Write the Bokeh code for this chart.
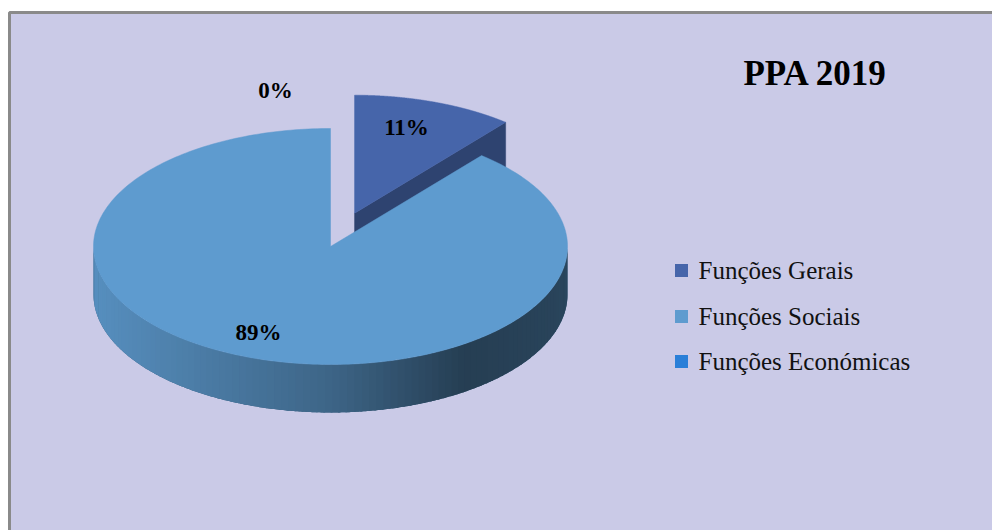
import numpy as np
from bokeh.plotting import figure
from bokeh.models import Range1d
from bokeh.core.properties import value
from bokeh.embed import file_html
from bokeh.resources import INLINE

# ---- data ----
categories = ["Funções Gerais", "Funções Sociais", "Funções Económicas"]
values = [11, 89, 0]
pct_labels = ["11%", "89%", "0%"]
title_text = "PPA 2019"

# ---- style / layout ----
slice_colors = ["#4665AA", "#5E9BCF", "#2A7FD8"]
explode = [0.30, 0.0, 0.0]
CX, CY, RX, RY, DEPTH = 330.0, 246.0, 237.0, 118.0, 48.0
label_xy = [(406, 127), (258, 332), (275, 90)]   # label centres (px)
FONT = "Liberation Serif"
BG = "#CACAE7"

def hex2rgb(h):
    h = h.lstrip("#")
    return np.array([int(h[i:i + 2], 16) for i in (0, 2, 4)], dtype=float)

def rgb2hex(c):
    c = np.clip(np.round(c), 0, 255).astype(int)
    return "#%02x%02x%02x" % tuple(c)

def wall_factor(x):
    u = (x - (CX - RX)) / (2 * RX)
    return np.interp(u, [0.0, 0.5, 0.78, 1.0], [0.92, 0.65, 0.40, 0.44])

p = figure(width=992, height=530, output_backend="svg", toolbar_location=None,
           x_range=Range1d(0, 992), y_range=Range1d(530, 0), min_border=0)
p.axis.visible = False
p.grid.visible = False
p.outline_line_color = None
p.background_fill_color = "white"
p.border_fill_color = "white"

# chart area with border
p.quad(left=[9], right=[1010], top=[12], bottom=[560], fill_color=BG,
       line_color="#8a8a8a", line_width=3)

total = float(sum(values))
starts, ends = [], []
a = 90.0
for v in values:
    starts.append(a)
    a = a - v / total * 360.0
    ends.append(a)

order = sorted(range(len(values)),
               key=lambda i: -np.sin(np.radians((starts[i] + ends[i]) / 2)))

for i in order:
    if values[i] <= 0:
        continue
    s, e = np.radians(starts[i]), np.radians(ends[i])
    m = (s + e) / 2
    cx = CX + explode[i] * RX * np.cos(m)
    cy = CY - explode[i] * RY * np.sin(m)
    base = hex2rgb(slice_colors[i])

    # radial faces
    face_xs, face_ys, face_cols = [], [], []
    if np.cos(e) > 1e-6:
        ex, ey = cx + RX * np.cos(e), cy - RY * np.sin(e)
        face_xs.append([cx, ex, ex, cx])
        face_ys.append([cy, ey, ey + DEPTH, cy + DEPTH])
        face_cols.append(rgb2hex(base * 0.66))
    if np.cos(s) < -1e-6:
        sx, sy = cx + RX * np.cos(s), cy - RY * np.sin(s)
        face_xs.append([cx, sx, sx, cx])
        face_ys.append([cy, sy, sy + DEPTH, cy + DEPTH])
        face_cols.append(rgb2hex(base * 0.66))
    if face_xs:
        p.patches(face_xs, face_ys, fill_color=face_cols, line_color=face_cols,
                  line_width=0.5)

    # outer wall (front half only): solid underlay, then shaded strips
    th = np.linspace(s, e, 720)
    front = th[np.sin(th) < 0]
    if len(front) > 1:
        fx = cx + RX * np.cos(front)
        fy = cy - RY * np.sin(front)
        p.patch(list(fx) + list(fx[::-1]), list(fy) + list(fy[::-1] + DEPTH),
                fill_color=rgb2hex(base * 0.6), line_color=None)
        wxs, wys, wcols = [], [], []
        step = 4
        for k in range(0, len(front) - 1, step):
            k2 = min(k + step + 1, len(front) - 1)
            seg = front[k:k2 + 1]
            sx = cx + RX * np.cos(seg)
            sy = cy - RY * np.sin(seg)
            wxs.append(list(sx) + list(sx[::-1]))
            wys.append(list(sy) + list(sy[::-1] + DEPTH))
            wcols.append(rgb2hex(base * wall_factor(sx.mean())))
        p.patches(wxs, wys, fill_color=wcols, line_color=None)

    # top face
    tt = np.linspace(s, e, 300)
    txs = [cx] + list(cx + RX * np.cos(tt)) + [cx]
    tys = [cy] + list(cy - RY * np.sin(tt)) + [cy]
    p.patch(txs, tys, fill_color=slice_colors[i], line_color=slice_colors[i],
            line_width=0.5)

# percentage labels
p.text(x=[xy[0] for xy in label_xy], y=[xy[1] for xy in label_xy], text=pct_labels,
       text_font=value(FONT), text_font_style="bold", text_font_size="23px",
       text_align="center", text_baseline="middle", text_color="black")

# title
p.text(x=[815], y=[73], text=[title_text], text_font=value(FONT),
       text_font_style="bold", text_font_size="35px", text_align="center",
       text_baseline="alphabetic", text_color="black")

# legend
leg_y = [270, 316, 361]
p.rect(x=[681] * 3, y=leg_y, width=13, height=13, fill_color=slice_colors,
       line_color=None)
p.text(x=[698] * 3, y=leg_y, text=categories, text_font=value(FONT),
       text_font_size="25px", text_align="left", text_baseline="middle",
       text_color="#111111")

open("out.html", "w").write(file_html(p, INLINE))
